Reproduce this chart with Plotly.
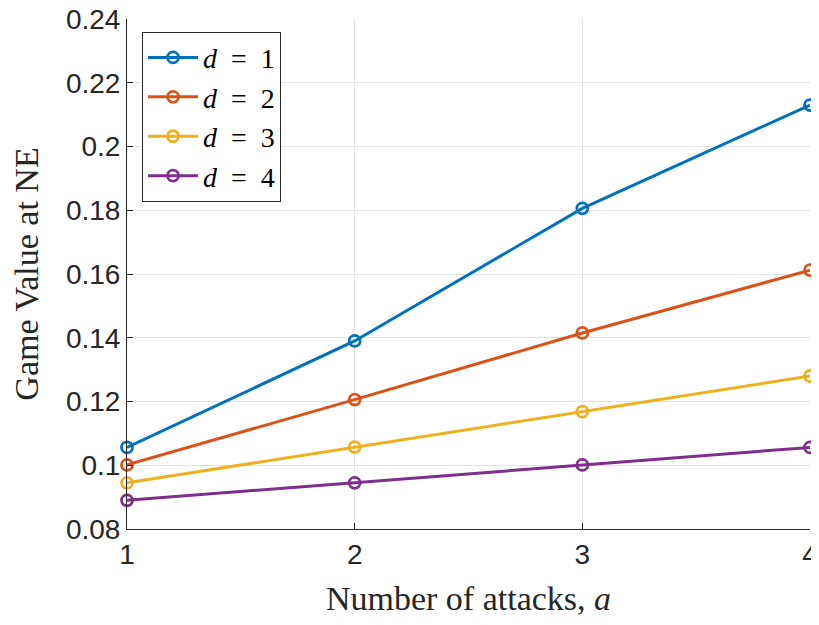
import plotly.graph_objects as go

attacks = [1, 2, 3, 4]
d1 = [0.1056, 0.1390, 0.1806, 0.2130]
d2 = [0.1001, 0.1206, 0.1415, 0.1612]
d3 = [0.0945, 0.1057, 0.1168, 0.1280]
d4 = [0.0890, 0.0945, 0.1001, 0.1056]
series_names = ["<i>d</i>\u2002=\u20021", "<i>d</i>\u2002=\u20022", "<i>d</i>\u2002=\u20023", "<i>d</i>\u2002=\u20024"]
colors = ["#0072BD", "#D95319", "#EDB120", "#7E2F8E"]
ytick_vals = [0.08, 0.10, 0.12, 0.14, 0.16, 0.18, 0.20, 0.22, 0.24]
ytick_text = ["0.08", "0.1", "0.12", "0.14", "0.16", "0.18", "0.2", "0.22", "0.24"]
xtick_vals = [1, 2, 3, 4]

fig = go.Figure()
for name, ys, c in zip(series_names, [d1, d2, d3, d4], colors):
    fig.add_trace(go.Scatter(
        x=attacks, y=ys, name=name, mode="lines+markers",
        line=dict(color=c, width=3),
        marker=dict(symbol="circle-open", size=11, color=c, line=dict(width=2.8, color=c)),
        cliponaxis=False,
    ))

axis_common = dict(
    showgrid=True, gridcolor="#e3e3e3", gridwidth=1,
    zeroline=False, showline=True, linecolor="#262626", linewidth=1,
    ticks="inside", ticklen=6, tickcolor="#262626", tickwidth=1,
    tickfont=dict(family="Liberation Sans, Arial, sans-serif", size=28, color="#262626"),
    mirror=False, ticklabeloverflow="allow",
)

# page body has an 8px default margin, so the figure is sized/placed to compensate
fig.update_layout(
    width=811, height=609,
    margin=dict(l=119, r=9, t=11, b=88, autoexpand=False),
    paper_bgcolor="white", plot_bgcolor="white",
    xaxis=dict(range=[1, 4], tickvals=xtick_vals, ticktext=[str(v) for v in xtick_vals],
               automargin=True,
               title=dict(text="Number of attacks, <i>a</i>", standoff=25,
                          font=dict(family="Liberation Serif, Times New Roman, serif", size=34, color="#262626")),
               **axis_common),
    yaxis=dict(range=[0.08, 0.24], tickvals=ytick_vals, ticktext=ytick_text,
               automargin=False,
               title=dict(text="Game Value at NE", standoff=17,
                          font=dict(family="Liberation Serif, Times New Roman, serif", size=34, color="#262626")),
               **axis_common),
    legend=dict(x=0.022, y=0.975, xanchor="left", yanchor="top",
                bgcolor="white", bordercolor="#262626", borderwidth=1,
                font=dict(family="Liberation Serif, Times New Roman, serif", size=28, color="#000000"),
                itemwidth=50, tracegroupgap=0),
    showlegend=True,
)

fig.write_html("out.html")
